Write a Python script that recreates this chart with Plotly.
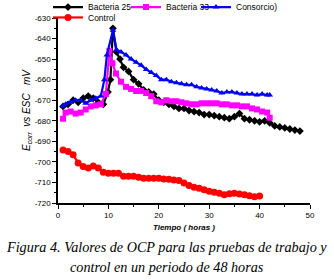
import plotly.graph_objects as go

# Bacteria 25
t_b25 = [1, 2, 3, 4, 5, 6, 7, 8, 9, 9.9, 10.4, 10.9, 11.6, 12.3, 13, 14, 15, 16, 17, 18, 19, 20, 21, 22, 23, 24,
         25, 26, 27, 28, 29, 30, 31, 32, 33, 34, 35, 36, 37, 38, 39, 40, 41, 42, 43, 44, 45, 46, 47, 48]
v_b25 = [-673, -672, -670, -671, -669, -668, -669, -671, -672, -666, -660, -635, -646.5, -650, -654, -656, -660, -662,
         -665, -666, -667, -670, -671, -672, -673, -674, -674, -675, -675.5, -676, -677, -677, -677.5, -678, -678.5,
         -679, -678, -676.5, -679, -679.5, -680, -680.5, -680, -681, -682.5, -683, -683.5, -684, -684.5, -685]

# Bacteria 33
t_b33 = [1, 1.5, 2.5, 3.5, 4.5, 5.5, 6.5, 7.5, 8.5, 9.5, 10.2, 10.8, 11.5, 12.5, 13.5, 14.5, 15.5, 16.5, 17.5, 18.5,
         19.5, 20.5, 21.5, 22.5, 23.5, 24.5, 25.5, 26.5, 27.5, 28.5, 29.5, 30.5, 31.5, 32.5, 33.5, 34.5, 35.5, 36.5,
         37.5, 38.5, 39.5, 40.5, 41.5, 42]
v_b33 = [-679, -676, -675.5, -676.5, -676, -674.5, -673, -672.5, -672, -667, -646, -652, -657, -661, -663.5, -664.5,
         -665.5, -665.5, -666.5, -668, -670.5, -671, -670, -670.5, -670.5, -671, -671.5, -672, -672, -671.5, -671.5,
         -671.5, -671.5, -672, -672, -672.5, -672.5, -673, -673, -674, -674.5, -675.5, -676, -678.5]

# Consorcio)
t_con = [1, 1.5, 2.5, 3.5, 4.5, 5.5, 6.5, 7.5, 8.5, 9.2, 9.7, 10.9, 11.6, 12.5, 13.5, 14.5, 15.5, 16.5, 17.5, 18.5,
         19.5, 20.5, 21.5, 22.5, 23.5, 24.5, 25.5, 26.5, 27.5, 28.5, 29.5, 30.5, 31.5, 32.5, 33.5, 34.5, 35.5, 36.5,
         37.5, 38.5, 39.5, 40.5, 41.5, 42]
v_con = [-673, -672, -671, -670, -670, -671.5, -670, -669, -668, -660, -648, -636, -645.5, -646.5, -648, -650, -651.5,
         -653, -655, -656.5, -658, -660, -660, -661, -661.5, -662, -662.5, -662.5, -663.5, -664, -664.5, -665, -665.5,
         -666.5, -666, -666, -666.5, -667, -667, -667, -667.5, -667, -667.5, -667.5]

# Control
t_ctl = [1, 2, 3, 4, 5, 6, 7, 8, 9, 10, 11, 12, 13, 14, 15, 16, 17, 18, 19, 20, 21, 22, 23, 24, 25, 26, 27, 28, 29,
         30, 31, 32, 33, 34, 35, 36, 37, 38, 39, 40]
v_ctl = [-694.2, -695, -696.5, -700.5, -702.3, -703, -702, -703, -705, -705.5, -705.5, -705.5, -707, -707, -707,
         -707.5, -708, -708, -708, -708, -708.3, -708.5, -708.8, -709, -710.3, -711.5, -712.3, -712.8, -713.5, -714.3,
         -714.8, -715.3, -716, -715.5, -715.3, -715.6, -716, -716.5, -717, -716.6]

y_ticks = [-630, -640, -650, -660, -670, -680, -690, -700, -710, -720]
y_labels = ["-630", "-640", "-650", "-660", "-670", "-680", "-690", "-700", "-710", "-720"]
x_ticks = [0, 10, 20, 30, 40, 50]

series = [
    ("Bacteria 25", t_b25, v_b25, "black", "diamond", 6, "legend"),
    ("Bacteria 33", t_b33, v_b33, "#ff00ff", "square", 6, "legend2"),
    ("Consorcio)", t_con, v_con, "#0000ff", "triangle-up", 6, "legend3"),
    ("Control", t_ctl, v_ctl, "#ff0000", "circle", 7, "legend4"),
]

fig = go.Figure()
for name, t, v, c, sym, sz, lg in series:
    fig.add_trace(go.Scatter(x=t, y=v, name=name, mode="lines+markers", legend=lg,
                             line=dict(color=c, width=2.2),
                             marker=dict(color=c, symbol=sym, size=sz, line=dict(width=0))))

font = "Liberation Sans, Arial, sans-serif"
leg_common = dict(orientation="h", xanchor="left", yanchor="middle",
                  font=dict(family=font, size=8.5, color="black"),
                  bgcolor="rgba(0,0,0,0)", itemwidth=30)
fig.update_layout(
    width=334, height=280,
    margin=dict(l=58, r=24, t=18, b=77, autoexpand=False),
    paper_bgcolor="white", plot_bgcolor="white",
    showlegend=True,
    legend=dict(x=-0.0397, y=1.059, **leg_common),
    legend2=dict(x=0.2698, y=1.059, **leg_common),
    legend3=dict(x=0.5476, y=1.059, **leg_common),
    legend4=dict(x=-0.0397, y=1.003, **leg_common),
    xaxis=dict(range=[0, 50], tickvals=x_ticks, showline=True, linecolor="black", linewidth=1.5,
               ticks="outside", ticklen=4, tickwidth=1, tickcolor="black", showgrid=False, zeroline=False,
               tickfont=dict(family=font, size=8, color="black"),
               minor=dict(dtick=5, ticks="outside", ticklen=2, tickcolor="black"),
               title=dict(text="<b><i>Tiempo ( horas )</i></b>", font=dict(family=font, size=8, color="black"),
                          standoff=5)),
    yaxis=dict(range=[-720, -630], tickvals=y_ticks, ticktext=y_labels, showline=True, linecolor="black",
               linewidth=1.5, ticks="outside", ticklen=4, tickwidth=1, tickcolor="black", showgrid=False,
               zeroline=False, tickfont=dict(family=font, size=8, color="black"),
               minor=dict(dtick=5, ticks="outside", ticklen=2, tickcolor="black"),
               title=dict(text="<i>E<sub>corr</sub>  vs ESC   mV</i>", font=dict(family=font, size=10, color="black"),
                          standoff=2)),
    annotations=[
        dict(text="<i>Figura 4. Valores de OCP para las pruebas de trabajo y</i>", xref="paper", yref="paper",
             x=0.4325, y=-0.238, xanchor="center", yanchor="middle", showarrow=False,
             font=dict(family="Liberation Serif, serif", size=14.2, color="black")),
        dict(text="<i>control en un periodo de 48 horas</i>", xref="paper", yref="paper",
             x=0.4325, y=-0.346, xanchor="center", yanchor="middle", showarrow=False,
             font=dict(family="Liberation Serif, serif", size=14.2, color="black")),
    ],
)
fig.write_html("out.html", config={"displayModeBar": False},
               post_script="document.body.style.margin='0px';")
